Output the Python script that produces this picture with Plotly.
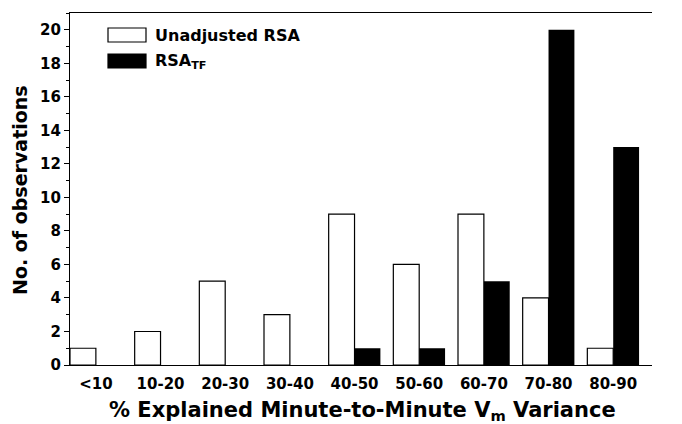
import plotly.graph_objects as go

categories = ["<10", "10-20", "20-30", "30-40", "40-50", "50-60", "60-70", "70-80", "80-90"]
unadjusted = [1, 2, 5, 3, 9, 6, 9, 4, 1]
rsa_tf = [0, 0, 0, 0, 1, 1, 5, 20, 13]
y_ticks = [0, 2, 4, 6, 8, 10, 12, 14, 16, 18, 20]

FONT = "DejaVu Sans, Arial, sans-serif"

W, H = 682, 424
L, R, T, B = 70, 30, 13, 59
pw, ph = W - L - R, H - T - B

def px2paper(x, y):
    return (x - L) / pw, (H - B - y) / ph

fig = go.Figure()
fig.add_trace(go.Bar(x=categories, y=unadjusted, name="Unadjusted RSA",
                     marker=dict(color="white", line=dict(color="black", width=1.2)),
                     showlegend=False))
fig.add_trace(go.Bar(x=categories, y=rsa_tf, name="RSA<sub>TF</sub>",
                     marker=dict(color="black", line=dict(color="black", width=0)),
                     showlegend=False))

axis_common = dict(range=[0, 21], tickvals=y_ticks, ticks="outside", ticklen=5, tickwidth=1.2,
                   tickcolor="black", showline=True, linecolor="black", linewidth=1.2,
                   showgrid=False, zeroline=False, automargin=False,
                   tickfont=dict(family=FONT, size=15, color="black", weight="bold"),
                   minor=dict(tickvals=[1, 3, 5, 7, 9, 11, 13, 15, 17, 19, 21], ticks="outside",
                              ticklen=3, tickwidth=1, tickcolor="black"))

fig.update_layout(
    width=W, height=H,
    margin=dict(l=L, r=R, t=T, b=B),
    plot_bgcolor="white", paper_bgcolor="white",
    barmode="group", bargap=0.2, bargroupgap=0,
    xaxis=dict(type="category", range=[-0.4, 8.6], ticks="", showline=True, linecolor="black",
               linewidth=1.2, mirror=True, showgrid=False, ticklabelstandoff=5, automargin=False,
               tickfont=dict(family=FONT, size=15, color="black", weight="bold")),
    yaxis=dict(**axis_common),
    yaxis2=dict(**axis_common, overlaying="y", side="right"),
)

# axis titles
tx, ty = px2paper(362, 411)
fig.add_annotation(xref="paper", yref="paper", x=tx, y=ty, showarrow=False,
                   text="% Explained Minute-to-Minute V<sub>m</sub> Variance",
                   xanchor="center", yanchor="middle",
                   font=dict(family=FONT, size=21, color="black", weight="bold"))
tx, ty = px2paper(20, 190)
fig.add_annotation(xref="paper", yref="paper", x=tx, y=ty, showarrow=False,
                   text="No. of observations", textangle=-90,
                   xanchor="center", yanchor="middle",
                   font=dict(family=FONT, size=19, color="black", weight="bold"))

# legend drawn manually
x0, y0 = px2paper(108, 28)
x1, y1 = px2paper(146, 42)
fig.add_shape(type="rect", xref="paper", yref="paper", x0=x0, x1=x1, y0=y0, y1=y1,
              fillcolor="white", line=dict(color="black", width=1.2))
x0, y0 = px2paper(108, 54)
x1, y1 = px2paper(146, 68)
fig.add_shape(type="rect", xref="paper", yref="paper", x0=x0, x1=x1, y0=y0, y1=y1,
              fillcolor="black", line=dict(color="black", width=1.2))
tx, ty = px2paper(153, 35)
fig.add_annotation(xref="paper", yref="paper", x=tx, y=ty, text="Unadjusted RSA", showarrow=False,
                   xanchor="left", yanchor="middle",
                   font=dict(family=FONT, size=16, color="black", weight="bold"))
tx, ty = px2paper(153, 62)
fig.add_annotation(xref="paper", yref="paper", x=tx, y=ty, text="RSA<sub>TF</sub>", showarrow=False,
                   xanchor="left", yanchor="middle",
                   font=dict(family=FONT, size=16, color="black", weight="bold"))

fig.write_html("out.html", config={"displayModeBar": False},
               post_script="document.body.style.margin='0';")
